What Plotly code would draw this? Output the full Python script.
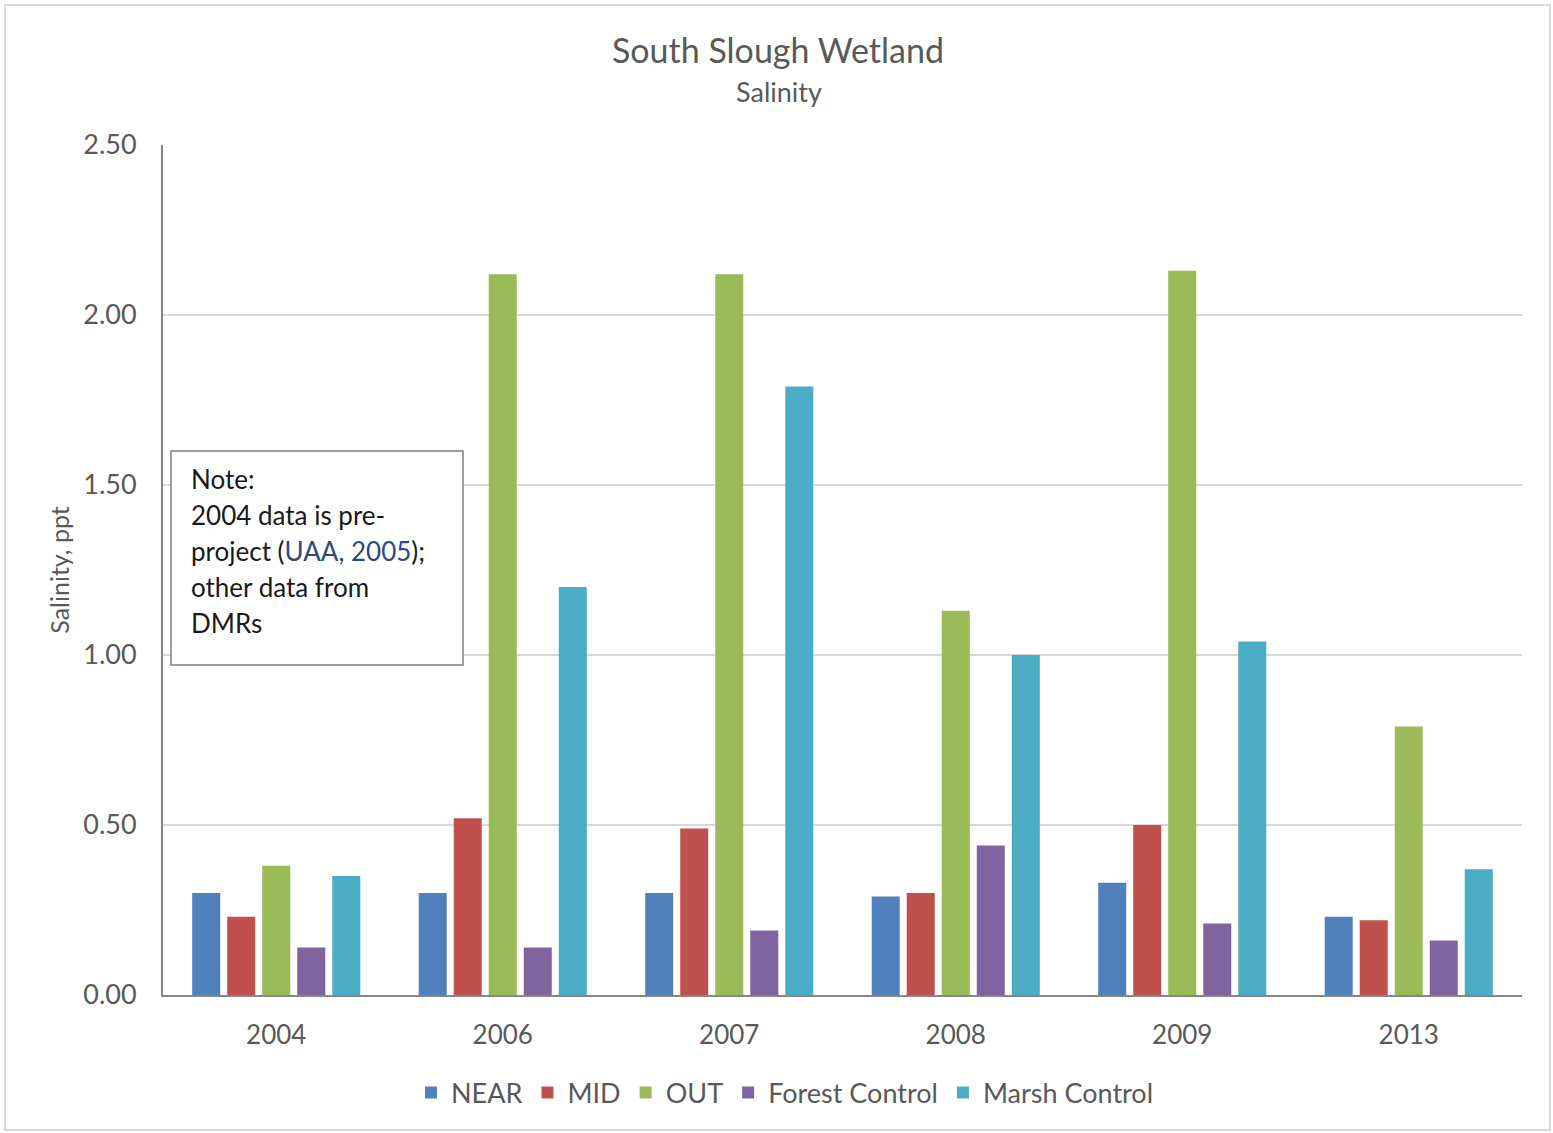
import plotly.graph_objects as go

# Salinity (ppt) by monitoring year and station
years = ["2004", "2006", "2007", "2008", "2009", "2013"]
near = [0.30, 0.30, 0.30, 0.29, 0.33, 0.23]
mid = [0.23, 0.52, 0.49, 0.30, 0.50, 0.22]
out = [0.38, 2.12, 2.12, 1.13, 2.13, 0.79]
forest_control = [0.14, 0.14, 0.19, 0.44, 0.21, 0.16]
marsh_control = [0.35, 1.20, 1.79, 1.00, 1.04, 0.37]

series_names = ["NEAR", "MID", "OUT", "Forest Control", "Marsh Control"]
series_values = [near, mid, out, forest_control, marsh_control]
series_colors = ["#4F81BD", "#C0504D", "#9BBB59", "#8064A2", "#4BACC6"]

y_ticks = [0.0, 0.5, 1.0, 1.5, 2.0, 2.5]

FONT = "Lato"
GREY = "#595959"

fig = go.Figure()
for name, vals, col in zip(series_names, series_values, series_colors):
    fig.add_trace(go.Bar(x=years, y=vals, name=name, marker_color=col,
                         marker_line_width=0))

W, H = 1553, 1133
ml, mr, mt, mb = 163, 31, 145, 138
pw, ph = W - ml - mr, H - mt - mb


def px(x):
    return (x - ml) / pw


def py(y):
    return (H - mb - y) / ph


shapes = [
    # outer chart border
    dict(type="rect", xref="paper", yref="paper",
         x0=px(5), x1=px(1550), y0=py(1130), y1=py(5),
         line=dict(color="#D9D9D9", width=2), layer="below"),
    # note box
    dict(type="rect", xref="paper", yref="paper",
         x0=px(171), x1=px(463), y0=py(665), y1=py(451),
         fillcolor="white", line=dict(color="#7F7F7F", width=1.5),
         layer="above"),
]

note_lines = [
    "Note:",
    "2004 data is pre-",
    "project (<span style='color:#2E4A7D'>UAA, 2005</span>);",
    "other data from",
    "DMRs",
]
annotations = [
    dict(text="South Slough Wetland", xref="paper", yref="paper",
         x=px(778), y=py(50), xanchor="center", yanchor="middle",
         showarrow=False, font=dict(family=FONT, size=34, color=GREY)),
    dict(text="Salinity", xref="paper", yref="paper",
         x=px(779), y=py(91), xanchor="center", yanchor="middle",
         showarrow=False, font=dict(family=FONT, size=27, color=GREY)),
]
for i, line in enumerate(note_lines):
    annotations.append(dict(
        text=line, xref="paper", yref="paper",
        x=px(189), y=py(479 + 36 * i), xanchor="left", yanchor="middle",
        showarrow=False, font=dict(family=FONT, size=26, color="#1A1A1A")))

fig.update_layout(
    width=W, height=H,
    margin=dict(l=ml, r=mr, t=mt, b=mb),
    paper_bgcolor="white", plot_bgcolor="white",
    barmode="group", bargap=0.227, bargroupgap=0.2,
    font=dict(family=FONT, color=GREY, size=26),
    showlegend=True,
    legend=dict(orientation="h", x=px(785), xanchor="center",
                y=py(1093), yanchor="middle",
                font=dict(family=FONT, size=27, color=GREY),
                itemwidth=30, traceorder="normal"),
    shapes=shapes,
    annotations=annotations,
)
fig.update_xaxes(showline=True, linecolor="#868686", linewidth=2,
                 ticks="", tickfont=dict(size=26, color=GREY),
                 ticklabelstandoff=16)
fig.update_yaxes(range=[0, 2.5], tickvals=y_ticks, tickformat=".2f",
                 showline=True, linecolor="#868686", linewidth=2,
                 showgrid=True, gridcolor="#D9D9D9", gridwidth=1.5,
                 zeroline=False, ticks="", ticklabelstandoff=19,
                 tickfont=dict(size=27, color=GREY),
                 title=dict(text="Salinity, ppt", standoff=6,
                            font=dict(size=25, color=GREY)))

fig.write_html("out.html")
